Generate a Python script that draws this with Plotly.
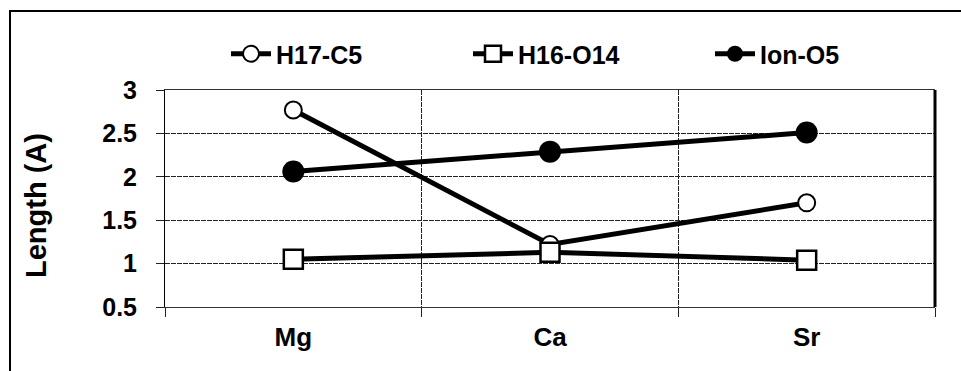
import plotly.graph_objects as go

# Bond lengths (Å) for each alkaline-earth ion
ions = ["Mg", "Ca", "Sr"]
h17_c5 = [2.77, 1.22, 1.70]
h16_o14 = [1.05, 1.13, 1.04]
ion_o5 = [2.06, 2.29, 2.51]
y_ticks = [0.5, 1, 1.5, 2, 2.5, 3]

W, H = 961, 371
ML, MR, MT, MB = 165, 26, 90, 64
PW, PH = W - ML - MR, H - MT - MB

def px_x(p):
    return (p - ML) / PW

def px_y(p):
    return (H - MB - p) / PH

fig = go.Figure()
series = [
    ("H17-C5", h17_c5, dict(symbol="circle", size=17, color="white",
                             line=dict(color="black", width=2))),
    ("H16-O14", h16_o14, dict(symbol="square", size=19, color="white",
                               line=dict(color="black", width=2.5))),
    ("Ion-O5", ion_o5, dict(symbol="circle", size=22, color="black",
                             line=dict(color="black", width=0))),
]
for name, vals, mk in series:
    fig.add_trace(go.Scatter(
        x=ions, y=vals, name=name, mode="lines+markers",
        line=dict(color="black", width=5), marker=mk,
    ))

grid = dict(gridcolor="#222222", gridwidth=1, griddash="5px,1px")

fig.update_xaxes(
    type="category", range=[-0.5, len(ions) - 0.5], tickson="boundaries",
    showgrid=True, **grid,
    ticks="outside", ticklen=9, tickcolor="#222", tickwidth=1,
    showline=True, linecolor="#333", linewidth=1, mirror=True,
    tickfont=dict(family="Liberation Sans, Arial", size=26, color="black",
                  weight="bold"),
    ticklabelstandoff=7,
)
fig.update_yaxes(
    range=[0.5, 3], tickvals=y_ticks, ticktext=[f"{v:g}" for v in y_ticks],
    showgrid=True, **grid, zeroline=False,
    ticks="outside", ticklen=8, tickcolor="#222", tickwidth=1,
    showline=True, linecolor="black", linewidth=1,
    tickfont=dict(family="Liberation Sans, Arial", size=25, color="black",
                  weight="bold"),
    ticklabelstandoff=14,
)

# Heavy right edge of the plot frame and the outer chart border
fig.add_shape(type="line", xref="x domain", yref="y domain",
              x0=1, x1=1, y0=0, y1=1, line=dict(color="black", width=3))
fig.add_shape(type="rect", xref="paper", yref="paper",
              x0=px_x(10), x1=px_x(970), y0=px_y(380), y1=px_y(11),
              line=dict(color="black", width=2), layer="below")

fig.add_annotation(
    text="Length (A)", textangle=-90, showarrow=False,
    xref="paper", yref="paper", x=px_x(36), y=px_y(206),
    xanchor="center", yanchor="middle",
    font=dict(family="Liberation Sans, Arial", size=29, color="black",
              weight="bold"),
)

fig.update_layout(
    width=W, height=H,
    margin=dict(l=ML, r=MR, t=MT, b=MB, autoexpand=False),
    paper_bgcolor="white", plot_bgcolor="white",
    showlegend=True,
    legend=dict(
        orientation="h", x=px_x(226), y=px_y(54), xanchor="left",
        yanchor="middle", entrywidth=187, entrywidthmode="pixels",
        itemwidth=40, bgcolor="rgba(0,0,0,0)",
        font=dict(family="Liberation Sans Narrow, Liberation Sans, Arial",
                  size=25, color="black", weight="bold"),
    ),
)

fig.write_html("out.html")
